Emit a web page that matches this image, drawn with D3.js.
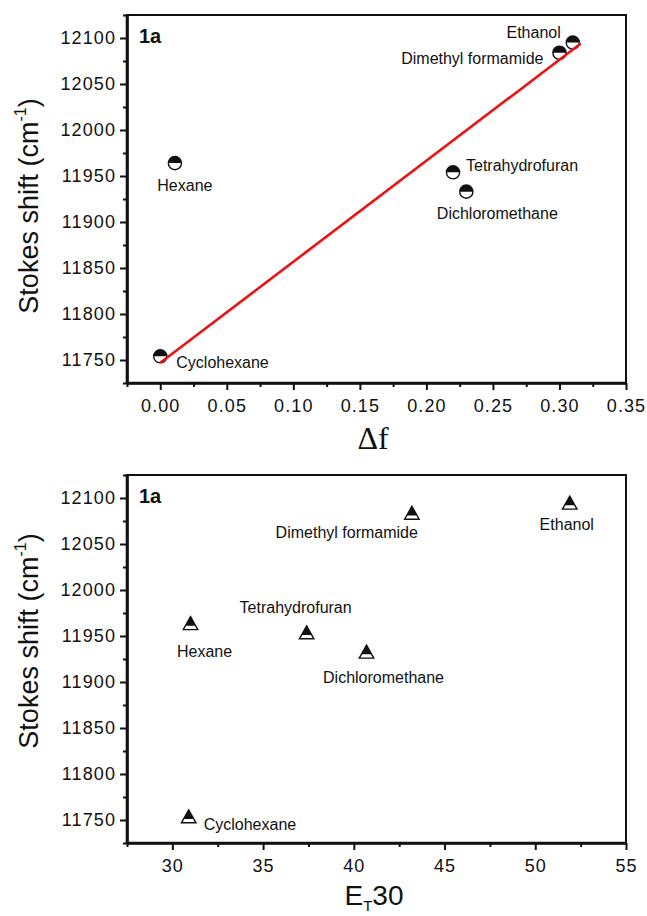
<!DOCTYPE html>
<html>
<head>
<meta charset="utf-8">
<script src="https://cdn.jsdelivr.net/npm/d3@7"></script>
<style>
  body { margin: 0; background: #fff; }
  svg text { font-family: Arial, "Liberation Sans", sans-serif; fill: #111; }
</style>
</head>
<body>
<svg id="chart" width="647" height="916"></svg>
<script>
// Solvent data: Stokes shift vs. orientation polarizability (Δf) and ET(30)
const solvents    = ["Cyclohexane", "Hexane", "Tetrahydrofuran", "Dichloromethane", "Dimethyl formamide", "Ethanol"];
const stokesShift = [11754, 11964, 11954, 11933, 12084, 12095];
const deltaF      = [0.000, 0.011, 0.220, 0.230, 0.300, 0.310];
const et30        = [30.9, 31.0, 37.4, 40.7, 43.2, 51.9];

// Linear fit drawn across the Δf panel
const fitDeltaF = [0.000, 0.316];
const fitStokes = [11747, 12094];

// Axis ranges and ticks
const stokesDomain = [11725, 12125];
const stokesTicks  = [11750, 11800, 11850, 11900, 11950, 12000, 12050, 12100];
const stokesMinor  = [11725, 11775, 11825, 11875, 11925, 11975, 12025, 12075, 12125];
const deltaFDomain = [-0.025, 0.35];
const deltaFTicks  = [0.00, 0.05, 0.10, 0.15, 0.20, 0.25, 0.30, 0.35];
const deltaFMinor  = [-0.025, 0.025, 0.075, 0.125, 0.175, 0.225, 0.275, 0.325];
const et30Domain   = [27.5, 55];
const et30Ticks    = [30, 35, 40, 45, 50, 55];
const et30Minor    = [27.5, 32.5, 37.5, 42.5, 47.5, 52.5];

const svg = d3.select("#chart");
const frame = { left: 127, right: 626 };

function drawPanel(opt) {
  const x = d3.scaleLinear().domain(opt.xDomain).range([frame.left, frame.right]);
  const y = d3.scaleLinear().domain(stokesDomain).range([opt.bottom, opt.top]);
  const g = svg.append("g");

  // frame (top and right edges thinner)
  g.append("rect")
    .attr("x", frame.left).attr("y", opt.top)
    .attr("width", frame.right - frame.left).attr("height", opt.bottom - opt.top)
    .attr("fill", "none").attr("stroke", "#111").attr("stroke-width", 2);

  // minor ticks
  g.append("g").attr("transform", `translate(0,${opt.bottom})`)
    .call(d3.axisBottom(x).tickValues(opt.xMinor).tickSize(4).tickSizeOuter(0).tickFormat(""))
    .call(a => a.select(".domain").remove());
  g.append("g").attr("transform", `translate(${frame.left},0)`)
    .call(d3.axisLeft(y).tickValues(stokesMinor).tickSize(4).tickSizeOuter(0).tickFormat(""))
    .call(a => a.select(".domain").remove());

  // major axes
  const xa = g.append("g").attr("transform", `translate(0,${opt.bottom})`)
    .call(d3.axisBottom(x).tickValues(opt.xTicks).tickSize(7).tickSizeOuter(0)
      .tickPadding(9).tickFormat(opt.xFormat));
  const ya = g.append("g").attr("transform", `translate(${frame.left},0)`)
    .call(d3.axisLeft(y).tickValues(stokesTicks).tickSize(7).tickSizeOuter(0)
      .tickPadding(4).tickFormat(d3.format("d")));
  [xa, ya].forEach(a => {
    a.select(".domain").attr("stroke", "#111").attr("stroke-width", 2.6);
    a.selectAll(".tick text").attr("font-size", 18).attr("letter-spacing", "1.1px")
      .attr("fill", "#111").style("font-family", "Arial, 'Liberation Sans', sans-serif");
  });
  g.selectAll(".tick line").attr("stroke", "#111").attr("stroke-width", 2);
  // thick left and bottom axis lines over the frame
  g.append("line").attr("x1", frame.left).attr("x2", frame.right)
    .attr("y1", opt.bottom).attr("y2", opt.bottom).attr("stroke", "#111").attr("stroke-width", 2.6);
  g.append("line").attr("x1", frame.left).attr("x2", frame.left)
    .attr("y1", opt.top - 1).attr("y2", opt.bottom + 1).attr("stroke", "#111").attr("stroke-width", 2.6);

  // panel tag
  g.append("text").attr("x", frame.left + 12).attr("y", opt.top + 28)
    .attr("font-size", 20).attr("font-weight", "bold").text("1a");

  // y axis title
  const yt = g.append("text")
    .attr("transform", `translate(38,${(opt.top + opt.bottom) / 2 + opt.yTitleShift}) rotate(-90)`)
    .attr("text-anchor", "middle").attr("font-size", 27);
  yt.append("tspan").text("Stokes shift (cm");
  yt.append("tspan").attr("font-size", 16).attr("dy", -12).text("-1");
  yt.append("tspan").attr("dy", 12).text(")");

  // data points
  const pts = solvents.map((name, i) => ({ name, xv: opt.xValues[i], yv: stokesShift[i], lab: opt.labels[i] }));
  const m = g.append("g").selectAll("g").data(pts).join("g")
    .attr("transform", d => `translate(${x(d.xv)},${y(d.yv)})`);
  opt.marker(m);

  if (opt.fit) {
    const line = d3.line().x(d => x(d[0])).y(d => y(d[1]));
    g.append("path").datum(fitDeltaF.map((v, i) => [v, fitStokes[i]]))
      .attr("d", line).attr("fill", "none").attr("stroke", "#ee1111").attr("stroke-width", 2.6);
  }

  // point labels
  g.append("g").selectAll("text").data(pts).join("text")
    .attr("x", d => x(d.xv) + d.lab[0]).attr("y", d => y(d.yv) + d.lab[1])
    .attr("text-anchor", d => d.lab[2]).attr("font-size", 16).attr("fill", "#222")
    .text(d => d.name);

  return g;
}

// half-filled circle: upper half black
function halfCircle(sel) {
  const r = 6.6;
  sel.append("circle").attr("r", r).attr("fill", "#fff");
  sel.append("path").attr("d", `M${-r},0A${r},${r} 0 0 1 ${r},0Z`).attr("fill", "#111");
  sel.append("circle").attr("r", r).attr("fill", "none").attr("stroke", "#111").attr("stroke-width", 1.4);
}

// half-filled triangle: upper half (by area) black
function halfTriangle(sel) {
  const s = 14.5, h = 13, k = Math.SQRT1_2;
  const top = -h / 2, base = h / 2, split = -h / 2 + h * k;
  sel.append("path").attr("d", `M0,${top}L${s / 2},${base}L${-s / 2},${base}Z`).attr("fill", "#fff");
  sel.append("path").attr("d", `M0,${top}L${s * k / 2},${split}L${-s * k / 2},${split}Z`).attr("fill", "#111");
  sel.append("path").attr("d", `M0,${top}L${s / 2},${base}L${-s / 2},${base}Z`)
    .attr("fill", "none").attr("stroke", "#111").attr("stroke-width", 1.4).attr("stroke-linejoin", "miter");
}

// Panel 1: Stokes shift vs Δf
const p1 = drawPanel({
  top: 15, bottom: 383,
  xDomain: deltaFDomain, xTicks: deltaFTicks, xMinor: deltaFMinor,
  xFormat: d3.format(".2f"), xValues: deltaF, marker: halfCircle, fit: true,
  yTitleShift: 7,
  labels: [[16, 12, "start"], [10, 28, "middle"], [13, -1, "start"],
           [31, 27, "middle"], [-16, 11, "end"], [-12, -5, "end"]]
});
p1.append("text").attr("x", 373).attr("y", 449).attr("text-anchor", "middle")
  .attr("font-size", 32).style("font-family", "'Liberation Serif', 'Times New Roman', serif").text("Δf");

// Panel 2: Stokes shift vs ET(30)
const p2 = drawPanel({
  top: 475, bottom: 843,
  xDomain: et30Domain, xTicks: et30Ticks, xMinor: et30Minor,
  xFormat: d3.format("d"), xValues: et30, marker: halfTriangle, fit: false,
  yTitleShift: -18,
  labels: [[15, 14, "start"], [14, 34, "middle"], [-11, -19, "middle"],
           [17, 31, "middle"], [6, 25, "end"], [-3, 27, "middle"]]
});
const xt2 = p2.append("text").attr("x", 374).attr("y", 905).attr("text-anchor", "middle").attr("font-size", 28);
xt2.append("tspan").text("E");
xt2.append("tspan").attr("font-size", 15).attr("dy", 6).text("T");
xt2.append("tspan").attr("dy", -6).text("30");
</script>
</body>
</html>
